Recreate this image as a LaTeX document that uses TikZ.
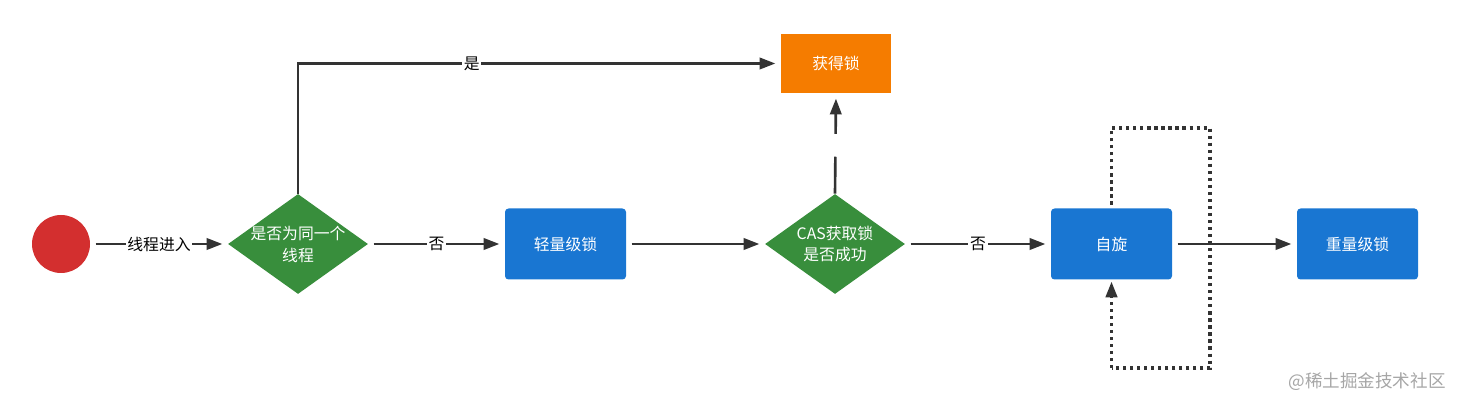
\documentclass[tikz,border=0pt]{standalone}
\usepackage{fontspec}
\setmainfont{Noto Sans CJK SC}
\usetikzlibrary{positioning,arrows.meta,shapes.geometric}

\definecolor{startred}{HTML}{D32F2F}
\definecolor{decgreen}{HTML}{388E3C}
\definecolor{boxblue}{HTML}{1976D2}
\definecolor{lockorange}{HTML}{F57C00}
\definecolor{linegray}{HTML}{333333}

\begin{document}
\begin{tikzpicture}[
  >={Triangle[length=9pt,width=6.5pt]},
  font=\fontsize{9}{12.5}\selectfont,
  flow/.style={->, draw=linegray, line width=1.5pt, shorten <=3pt, shorten >=3pt},
  startnode/.style={circle, fill=startred, minimum size=1.16cm, inner sep=0pt},
  decision/.style={diamond, fill=decgreen, text=white, aspect=1.4, inner sep=-4pt,
    minimum width=2.8cm, minimum height=2cm, align=center},
  stepbox/.style={rectangle, rounded corners=2pt, fill=boxblue, text=white,
    minimum width=2.42cm, minimum height=1.42cm},
  lockbox/.style={rectangle, fill=lockorange, text=white,
    minimum width=2.2cm, minimum height=1.18cm},
  lbl/.style={fill=white, inner sep=1pt, text=black},
  loopline/.style={draw=linegray, line width=1.8pt, dash pattern=on 1.8pt off 2.2pt}
]
\useasboundingbox (0,0) rectangle (29.22,8.14);

% Start and first decision
\node[startnode] (start) at (1.22,3.26) {};
\node[decision] (same) at (5.96,3.26) {是否为同一个\\线程};
\draw[flow] (start) -- node[lbl] {线程进入} (same);

% Lightweight lock and CAS
\node[stepbox] (light) at (11.31,3.26) {轻量级锁};
\node[decision] (cas) at (16.70,3.26) {CAS获取锁\\是否成功};
\draw[flow] (same) -- node[lbl] {否} (light);
\draw[flow] (light) -- (cas);

% Lock acquired
\node[lockbox] (got) at (16.72,6.87) {获得锁};
\coordinate (corner) at (5.96,6.87);
\draw[flow, shorten <=0pt] (same.north) -- (corner) -- node[lbl, pos=0.36] {是} (got.west);
\draw[flow, shorten <=0pt, dash pattern=on 21pt off 13pt on 100pt] (cas.north) -- (got.south);

% Spin and heavyweight lock
\node[stepbox] (spin) at (22.23,3.26) {自旋};
\node[stepbox] (heavy) at (27.15,3.26) {重量级锁};
\draw[flow] (cas) -- node[lbl] {否} (spin);
\draw[flow] (spin) -- (heavy);

% Spin loop
\coordinate (looptl) at (22.23,5.58);
\coordinate (looptr) at (24.20,5.58);
\coordinate (loopbr) at (24.20,0.78);
\coordinate (loopbl) at (22.23,0.78);
\draw[loopline] ([yshift=2pt]spin.north) -- (looptl) -- (looptr) -- (loopbr) -- (loopbl);
\draw[loopline, ->, shorten >=1pt] (loopbl) -- (spin.south);

% Watermark
\node[text=gray!70, font=\fontsize{10}{12}\selectfont] (mark) at (27.34,0.5) {@稀土掘金技术社区};

\end{tikzpicture}
\end{document}
